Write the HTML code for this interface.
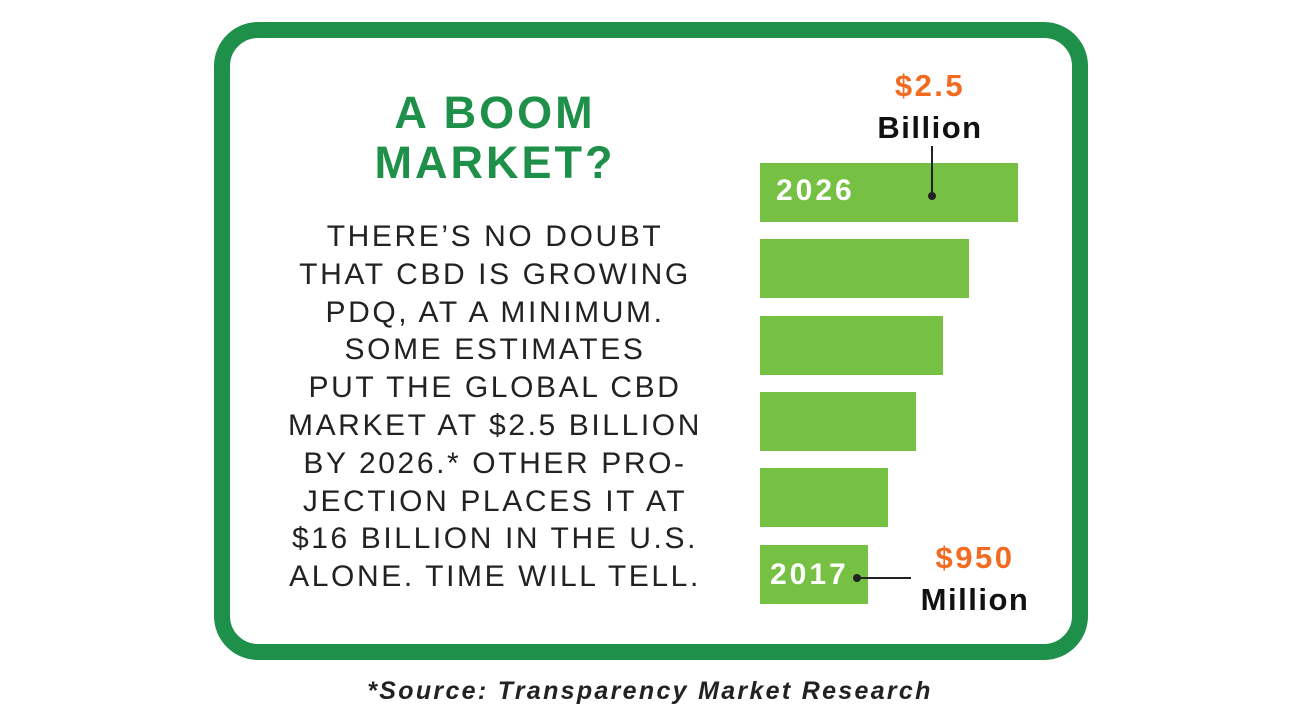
<!DOCTYPE html>
<html><head><style>
body{margin:0;width:1300px;height:724px;background:#fff;position:relative;overflow:hidden;font-family:"Liberation Sans",sans-serif}
.frame{position:absolute;left:214px;top:22px;width:842px;height:606px;border:16px solid #1e9049;border-radius:44px}
.t{position:absolute;text-align:center;white-space:nowrap}
.title{left:270px;width:450px;top:88px;font-size:45px;line-height:50px;font-weight:bold;color:#1e9049;letter-spacing:3px}
.body{left:245px;width:500px;top:218px;font-size:30px;line-height:37.8px;color:#222;letter-spacing:2.6px}
.bar{position:absolute;left:760px;height:59px;background:#76c043}
.yr{position:absolute;color:#fff;font-weight:bold;font-size:30px;letter-spacing:3px}
.or{color:#f26b21;font-weight:bold;font-size:31px;letter-spacing:2.5px}
.bk{color:#111;font-weight:bold;font-size:31px;letter-spacing:1.5px}
</style></head><body>
<div class="frame"></div>
<div class="t title">A BOOM<br>MARKET?</div>
<div class="t body">THERE’S NO DOUBT<br>THAT CBD IS GROWING<br>PDQ, AT A MINIMUM.<br>SOME ESTIMATES<br>PUT THE GLOBAL CBD<br>MARKET AT $2.5 BILLION<br>BY 2026.* OTHER PRO-<br>JECTION PLACES IT AT<br>$16 BILLION IN THE U.S.<br>ALONE. TIME WILL TELL.</div>
<div class="bar" style="top:163px;width:258px"></div>
<div class="bar" style="top:239px;width:209px"></div>
<div class="bar" style="top:316px;width:183px"></div>
<div class="bar" style="top:392px;width:156px"></div>
<div class="bar" style="top:468px;width:128px"></div>
<div class="bar" style="top:545px;width:108px"></div>
<div class="yr" style="left:776px;top:174px">2026</div>
<div class="yr" style="left:770px;top:558px">2017</div>
<div class="t or" style="left:860px;width:140px;top:68px">$2.5</div>
<div class="t bk" style="left:860px;width:140px;top:110px">Billion</div>
<div style="position:absolute;left:931px;top:146px;width:2px;height:49px;background:#222"></div>
<div style="position:absolute;left:928px;top:192px;width:8px;height:8px;border-radius:50%;background:#222"></div>
<div class="t or" style="left:905px;width:140px;top:540px">$950</div>
<div class="t bk" style="left:905px;width:140px;top:582px">Million</div>
<div style="position:absolute;left:856px;top:577px;width:55px;height:2px;background:#222"></div>
<div style="position:absolute;left:853px;top:574px;width:8px;height:8px;border-radius:50%;background:#222"></div>
<div class="t" style="left:250px;width:800px;top:677px;font-size:25px;font-weight:bold;font-style:italic;color:#222;letter-spacing:2.3px">*Source: Transparency Market Research</div>
</body></html>
